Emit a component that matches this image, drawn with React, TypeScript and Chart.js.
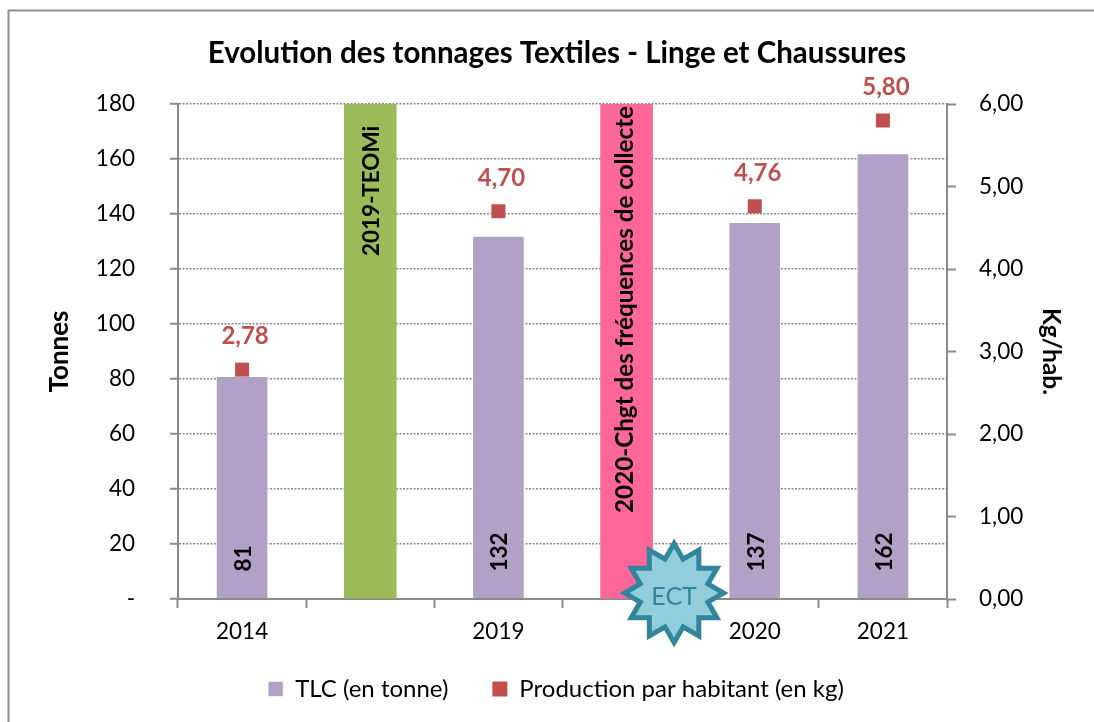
import React, { useEffect, useRef } from "react";
import { Chart, registerables } from "chart.js";

Chart.register(...registerables);

const categories = ["2014", "", "2019", "", "2020", "2021"];
const tonnage = [81, 180, 132, 180, 137, 162];
const perInhabitant = [2.78, null, 4.7, null, 4.76, 5.8];
const barColors = ["#b2a1c7", "#9bbb59", "#b2a1c7", "#ff6699", "#b2a1c7", "#b2a1c7"];
const barTexts = ["81", "2019-TEOMi", "132", "2020-Chgt des fréquences de collecte", "137", "162"];
const barTextBase = [10, 124.7, 10, 31.3, 10, 10];
const leftTicks = [0, 20, 40, 60, 80, 100, 120, 140, 160, 180];
const rightTicks = [0, 1, 2, 3, 4, 5, 6];

const FONT = "Lato";
const GREY = "#8a8a8a";
const RED = "#c0504d";

const decor = {
  id: "decor",
  afterLayout(c: any) {
    if (c.titleBlock) {
      c.titleBlock.left += 10;
      c.titleBlock.right += 10;
    }
    if (c.legend) {
      c.legend.left += 9;
      c.legend.right += 9;
    }
    // let the category labels overflow their short box without being cut
    c.scales.x.bottom += 40;
  },
  beforeDraw(c: any) {
    const { ctx, width, height } = c;
    ctx.save();
    ctx.fillStyle = "#fff";
    ctx.fillRect(0, 0, width, height);
    ctx.strokeStyle = "#8e8e8e";
    ctx.lineWidth = 2;
    ctx.beginPath();
    ctx.moveTo(8.5, height);
    ctx.lineTo(8.5, 10.5);
    ctx.lineTo(width, 10.5);
    ctx.stroke();
    ctx.restore();
  },
  afterDraw(c: any) {
    const { ctx } = c;
    const bars = c.getDatasetMeta(1).data;
    const pts = c.getDatasetMeta(0).data;
    const y = c.scales.y;
    ctx.save();
    ctx.fillStyle = "#000";
    ctx.textAlign = "left";
    ctx.textBaseline = "middle";
    barTexts.forEach((t, i) => {
      const long = t.length > 20;
      ctx.font = `bold ${long ? 24.2 : 22.5}px ${FONT}`;
      ctx.save();
      ctx.translate(bars[i].x + (long ? -1.5 : 1.5), y.getPixelForValue(barTextBase[i]));
      ctx.rotate(-Math.PI / 2);
      ctx.fillText(t, 0, 0);
      ctx.restore();
    });
    ctx.fillStyle = RED;
    ctx.font = `bold 24px ${FONT}`;
    ctx.textAlign = "center";
    perInhabitant.forEach((v, i) => {
      if (v == null) return;
      ctx.fillText(v.toFixed(2).replace(".", ","), pts[i].x + 3, pts[i].y - 33);
    });
    // ECT badge
    const cx = c.scales.x.getPixelForValue(3) + 47.5;
    const cy = y.getPixelForValue(0) - 6;
    const R = 49.5;
    const r = 35;
    ctx.beginPath();
    for (let k = 0; k < 24; k++) {
      const a = -Math.PI / 2 + (k * Math.PI) / 12;
      const rad = k % 2 === 0 ? R : r;
      const px = cx + rad * Math.cos(a);
      const py = cy + rad * Math.sin(a);
      if (k === 0) ctx.moveTo(px, py);
      else ctx.lineTo(px, py);
    }
    ctx.closePath();
    ctx.fillStyle = "#92cddc";
    ctx.fill();
    ctx.strokeStyle = "#31859c";
    ctx.lineWidth = 5;
    ctx.lineJoin = "miter";
    ctx.stroke();
    ctx.fillStyle = "#31859c";
    ctx.font = `25px ${FONT}`;
    ctx.fillText("ECT", cx, cy + 4);
    ctx.restore();
  },
};

export default function App() {
  const ref = useRef<HTMLCanvasElement>(null);
  useEffect(() => {
    const chart = new Chart(ref.current!, {
      type: "bar",
      plugins: [decor],
      data: {
        labels: categories,
        datasets: [
          {
            type: "line",
            label: "Production par habitant (en kg)",
            data: perInhabitant,
            yAxisID: "y1",
            showLine: false,
            pointStyle: "rect",
            pointRadius: 9.9,
            pointHoverRadius: 9.9,
            pointBorderWidth: 0,
            backgroundColor: RED,
            borderColor: RED,
            order: 0,
          },
          {
            type: "bar",
            label: "TLC (en tonne)",
            data: tonnage,
            yAxisID: "y",
            backgroundColor: barColors,
            borderColor: "rgba(255,255,255,0.6)",
            borderWidth: (ctx: any) => (ctx.raw >= 180 ? 0 : 1),
            barThickness: 52,
            order: 1,
          },
        ],
      } as any,
      options: {
        responsive: false,
        animation: false,
        layout: { padding: { bottom: 11 } },
        plugins: {
          title: {
            display: true,
            text: "Evolution des tonnages Textiles - Linge et Chaussures",
            color: "#000",
            font: { family: FONT, size: 29.5, weight: "bold" },
            padding: { top: 36, bottom: 32.6 },
          },
          legend: {
            position: "bottom",
            reverse: true,
            labels: {
              usePointStyle: true,
              pointStyle: "rect",
              boxWidth: 15,
              boxHeight: 15,
              padding: 44,
              color: "#000",
              font: { family: FONT, size: 24 },
            },
          },
          tooltip: { enabled: false },
        },
        scales: {
          x: {
            offset: true,
            afterFit(s: any) {
              s.height = 34;
            },
            border: { color: GREY, width: 2 },
            grid: {
              offset: true,
              drawOnChartArea: false,
              drawTicks: true,
              tickLength: 9,
              tickColor: GREY,
              tickWidth: 2,
            },
            ticks: {
              color: "#000",
              autoSkip: false,
              maxRotation: 0,
              padding: 10,
              font: { family: FONT, size: 22.5 },
            },
          },
          y: {
            position: "left",
            min: 0,
            max: 180,
            afterFit(s: any) {
              s.width = 178;
            },
            afterBuildTicks(s: any) {
              s.ticks = leftTicks.map((value) => ({ value }));
            },
            border: { color: GREY, width: 2, dash: [2, 1.5] },
            grid: {
              color: GREY,
              lineWidth: 1.5,
              drawOnChartArea: true,
              tickLength: 8,
              tickColor: GREY,
              tickWidth: 2,
              tickBorderDash: [],
            },
            ticks: {
              color: "#000",
              padding: 35,
              font: { family: FONT, size: 22.5 },
              callback: (v: any) => (v === 0 ? "-" : String(v)),
            },
            title: {
              display: true,
              text: "Tonnes",
              color: "#000",
              font: { family: FONT, size: 26, weight: "bold" },
              padding: { top: 44, bottom: 0 },
            },
          } as any,
          y1: {
            position: "right",
            min: 0,
            max: 6,
            afterFit(s: any) {
              s.width = 147;
            },
            afterBuildTicks(s: any) {
              s.ticks = rightTicks.map((value) => ({ value }));
            },
            border: { color: GREY, width: 2 },
            grid: {
              drawOnChartArea: false,
              tickLength: 9,
              tickColor: GREY,
              tickWidth: 2,
            },
            ticks: {
              color: "#000",
              padding: 23,
              font: { family: FONT, size: 22.5 },
              callback: (v: any) => Number(v).toFixed(2).replace(".", ","),
            },
            title: {
              display: true,
              text: "Kg/hab.",
              color: "#000",
              font: { family: FONT, size: 24.5, weight: "bold" },
              padding: { top: 28, bottom: 0 },
            },
          },
        },
      } as any,
    });
    return () => chart.destroy();
  }, []);
  return (
    <canvas
      ref={ref}
      width={1094}
      height={722}
      style={{ position: "absolute", left: 0, top: 0, display: "block" }}
    />
  );
}
